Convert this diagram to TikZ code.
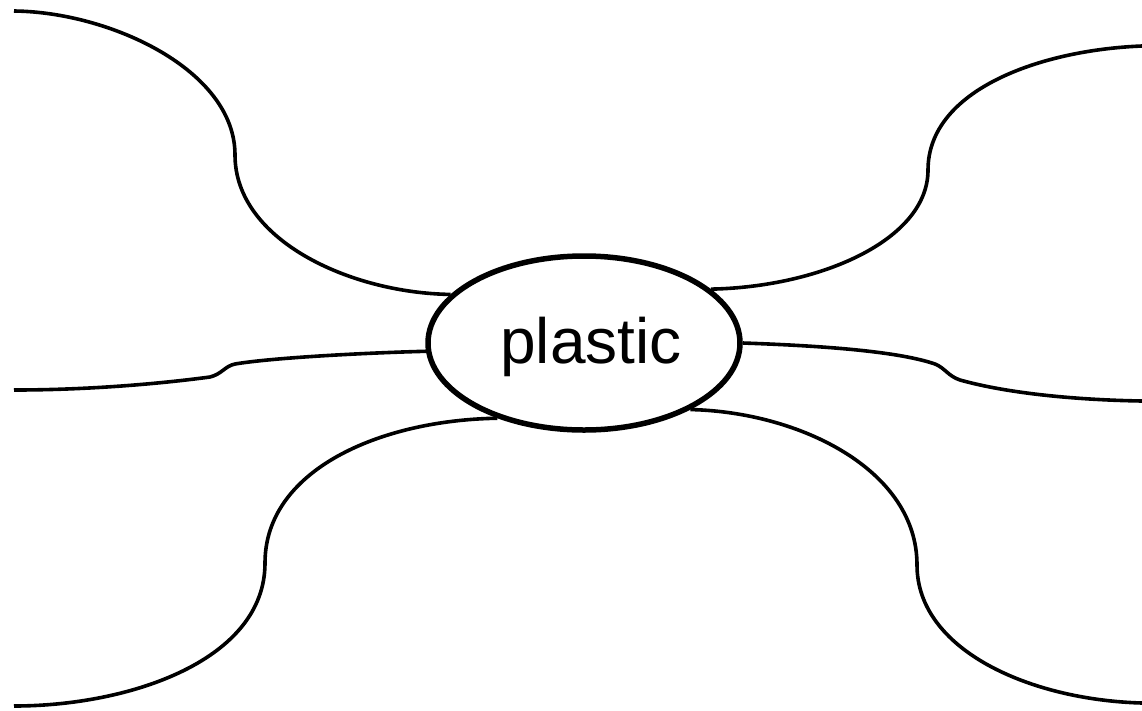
\documentclass[tikz,border=0pt]{standalone}
\usepackage{fontspec}
\setmainfont{Liberation Sans}
\usetikzlibrary{shapes.geometric}
\tikzset{
  hub/.style={
	ellipse, draw, % the central word sits in an ellipse
	line width=5.5pt,
	minimum width=312pt, minimum height=174pt, inner sep=0pt,
	font=\fontsize{64}{70}\selectfont,
  },
  branch/.style={line width=3.6pt}, % the six arms
}
\begin{document}
\begin{tikzpicture}[x=1pt, y=-1pt]
	  \useasboundingbox (0,0) rectangle (1142,710);
	  \node[hub] (plastic) at (584,343) {\hspace*{14pt}\raisebox{-4pt}[\height][\depth]{plastic}};
	  % free ends of the arms
	  \coordinate (tl) at (14,11);
	  \coordinate (tr) at (1142,46);
	  \coordinate (ml) at (14,390);
	  \coordinate (mr) at (1142,401);
	  \coordinate (bl) at (14,706);
	  \coordinate (br) at (1142,703);
	  \draw[branch] (plastic.160) .. controls (350,293) and (235,240) .. (235,155)
		  .. controls (235,70) and (110,12) .. (tl);
	  \draw[branch] (plastic.23.5) .. controls (820,287) and (928,240) .. (928,170)
		  .. controls (928,90) and (1040,50) .. (tr);
	  \draw[branch] (plastic.183.5) .. controls (360,353) and (270,358) .. (235,364)
		  .. controls (225,366) and (222,374) .. (210,377)
		  .. controls (150,385) and (80,390) .. (ml);
	  \draw[branch] (plastic.0) .. controls (830,346) and (900,352) .. (935,364)
		  .. controls (945,368) and (948,376) .. (960,380)
		  .. controls (1010,394) and (1080,400) .. (mr);
	  \draw[branch] (plastic.221.5) .. controls (380,420) and (265,470) .. (265,563)
		  .. controls (265,660) and (130,706) .. (bl);
	  \draw[branch] (plastic.-32) .. controls (800,412) and (917,470) .. (917,565)
		  .. controls (917,650) and (1030,700) .. (br);
\end{tikzpicture}
\end{document}
